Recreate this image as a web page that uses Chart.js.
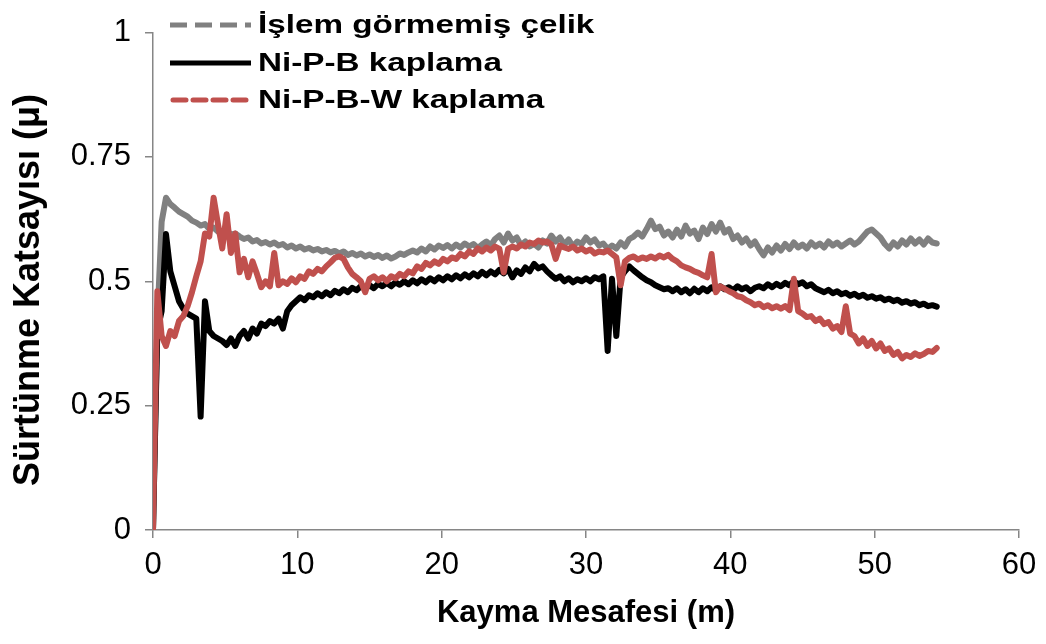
<!DOCTYPE html>
<html>
<head>
<meta charset="utf-8">
<script src="https://cdn.jsdelivr.net/npm/chart.js@4/dist/chart.umd.min.js"></script>
<style>
  html, body { margin: 0; padding: 0; background: #fff; }
  #surtunme { display: block; }
</style>
</head>
<body>
<canvas id="surtunme" width="1046" height="644" style="width:1046px;height:644px"></canvas>
<script>
// kayma mesafesi (m), 0.3 m aralik
const mesafe = [];
for (let i = 0; i <= 181; i++) mesafe.push(Math.round(i * 3) / 10);

const seriAdlari = ['İşlem görmemiş çelik', 'Ni-P-B kaplama', 'Ni-P-B-W kaplama'];
const yBaslik = 'Sürtünme Katsayısı (μ)';
const xBaslik = 'Kayma Mesafesi (m)';
const yTicks = [0, 0.25, 0.5, 0.75, 1];
const xTicks = [0, 10, 20, 30, 40, 50, 60];

const celik = [
  0, 0.42, 0.62, 0.668, 0.655, 0.648, 0.64, 0.635, 0.63, 0.622,
  0.618, 0.612, 0.615, 0.605, 0.608, 0.6, 0.598, 0.602, 0.594, 0.596,
  0.59, 0.585, 0.588, 0.58, 0.583, 0.576, 0.579, 0.574, 0.578, 0.572,
  0.575, 0.568, 0.572, 0.566, 0.57, 0.564, 0.567, 0.562, 0.565, 0.56,
  0.563, 0.558, 0.561, 0.556, 0.56, 0.553, 0.557, 0.552, 0.556, 0.55,
  0.554, 0.549, 0.553, 0.547, 0.552, 0.546, 0.55, 0.556, 0.553, 0.558,
  0.562, 0.558, 0.566, 0.56, 0.57, 0.564, 0.572, 0.567, 0.573, 0.566,
  0.574, 0.568, 0.576, 0.57, 0.575, 0.567, 0.574, 0.58, 0.572, 0.585,
  0.592, 0.578, 0.596, 0.582, 0.588, 0.572, 0.58, 0.57, 0.575, 0.568,
  0.582, 0.576, 0.592, 0.58, 0.588, 0.574, 0.584, 0.57, 0.58, 0.575,
  0.588, 0.578, 0.584, 0.572, 0.576, 0.565, 0.572, 0.566, 0.578, 0.57,
  0.585, 0.59, 0.598, 0.59, 0.605, 0.622, 0.605, 0.61, 0.592, 0.6,
  0.588, 0.604, 0.59, 0.612, 0.596, 0.602, 0.585, 0.608, 0.595, 0.615,
  0.6, 0.618, 0.598, 0.605, 0.585, 0.592, 0.578, 0.586, 0.572, 0.58,
  0.565, 0.552, 0.568, 0.558, 0.572, 0.562, 0.575, 0.565, 0.578, 0.568,
  0.574, 0.566, 0.578, 0.57, 0.576, 0.568, 0.58, 0.572, 0.578, 0.57,
  0.576, 0.582, 0.574, 0.58, 0.59, 0.6, 0.604, 0.596, 0.588, 0.575,
  0.566, 0.578, 0.57, 0.582, 0.574, 0.586, 0.576, 0.584, 0.574, 0.586,
  0.578, 0.576
];

const nipb = [
  0, 0.40, 0.44, 0.595, 0.52, 0.49, 0.46, 0.445, 0.435, 0.43,
  0.425, 0.228, 0.46, 0.40, 0.39, 0.385, 0.38, 0.372, 0.385, 0.37,
  0.39, 0.40, 0.385, 0.405, 0.395, 0.415, 0.41, 0.42, 0.415, 0.425,
  0.405, 0.44, 0.452, 0.46, 0.468, 0.462, 0.472, 0.468, 0.476, 0.47,
  0.478, 0.472, 0.481, 0.476, 0.484, 0.478, 0.487, 0.482, 0.49, 0.485,
  0.492, 0.486, 0.495, 0.49, 0.497, 0.49, 0.498, 0.493, 0.5, 0.494,
  0.502, 0.496, 0.504, 0.498, 0.506, 0.5, 0.508, 0.502, 0.51, 0.504,
  0.512, 0.506, 0.514, 0.508, 0.516, 0.51, 0.519, 0.512, 0.52, 0.514,
  0.523, 0.516, 0.525, 0.508, 0.522, 0.515, 0.528, 0.52, 0.535, 0.526,
  0.53, 0.52, 0.512, 0.505, 0.51, 0.5, 0.506, 0.498, 0.504, 0.5,
  0.506, 0.5, 0.508, 0.504, 0.51, 0.36, 0.505, 0.39, 0.508, 0.52,
  0.53, 0.522, 0.515, 0.508, 0.502, 0.498, 0.492, 0.488, 0.484, 0.486,
  0.48, 0.486, 0.478, 0.484, 0.476, 0.485, 0.478, 0.486, 0.48, 0.488,
  0.482, 0.49, 0.484, 0.488, 0.482, 0.49, 0.484, 0.488, 0.48, 0.487,
  0.49, 0.486, 0.494, 0.488, 0.495, 0.49, 0.497, 0.492, 0.5, 0.494,
  0.498, 0.49, 0.494, 0.486, 0.482, 0.478, 0.483, 0.476, 0.48, 0.474,
  0.477, 0.471, 0.475, 0.469, 0.473, 0.467, 0.47, 0.465, 0.468, 0.462,
  0.465, 0.46, 0.463, 0.457, 0.46, 0.455, 0.458, 0.452, 0.455, 0.45,
  0.452, 0.449
];

const nipbw = [
  0, 0.48, 0.39, 0.37, 0.40, 0.39, 0.42, 0.43, 0.45, 0.478,
  0.51, 0.54, 0.596, 0.59, 0.668, 0.615, 0.566, 0.635, 0.557, 0.596,
  0.518, 0.545, 0.508, 0.54, 0.515, 0.488, 0.5, 0.49, 0.557, 0.492,
  0.5, 0.495, 0.506, 0.498, 0.51, 0.505, 0.52, 0.515, 0.525, 0.52,
  0.53, 0.538, 0.547, 0.55, 0.545, 0.528, 0.515, 0.508, 0.5, 0.478,
  0.505, 0.51, 0.502, 0.508, 0.5, 0.51, 0.506, 0.515, 0.51, 0.52,
  0.516, 0.53, 0.525, 0.537, 0.532, 0.54, 0.535, 0.545, 0.54, 0.548,
  0.545, 0.555, 0.55, 0.56, 0.555, 0.566, 0.56, 0.568, 0.562, 0.57,
  0.565, 0.518, 0.565, 0.57, 0.566, 0.574, 0.57, 0.578, 0.575, 0.582,
  0.578, 0.58, 0.574, 0.545, 0.572, 0.568, 0.565, 0.57, 0.562, 0.566,
  0.56, 0.564, 0.556, 0.56, 0.558, 0.562, 0.555, 0.548, 0.492, 0.54,
  0.547, 0.55, 0.544, 0.548, 0.545, 0.55, 0.546, 0.552, 0.548, 0.553,
  0.545, 0.54, 0.532, 0.528, 0.525, 0.52, 0.517, 0.512, 0.508, 0.555,
  0.478, 0.49, 0.485, 0.48, 0.476, 0.47, 0.468, 0.462, 0.458, 0.452,
  0.455, 0.448, 0.452, 0.446, 0.45, 0.445, 0.45, 0.442, 0.505, 0.44,
  0.435, 0.428, 0.43, 0.42, 0.425, 0.414, 0.418, 0.405, 0.41, 0.398,
  0.45, 0.395, 0.39, 0.375, 0.385, 0.37, 0.38, 0.365, 0.375, 0.36,
  0.365, 0.352, 0.358, 0.345, 0.352, 0.348, 0.355, 0.35, 0.354, 0.36,
  0.358, 0.366
];

const renkler = ['#808080', '#000000', '#C0504D'];
const kesik = [[17, 8], [], [13, 7]];
const uclar = ['butt', 'butt', 'round'];
const eksenRengi = '#868686';
const yazi = '"Liberation Sans", Arial, sans-serif';

function noktalar(ys){ return ys.map((y, i) => ({ x: mesafe[i], y: y })); }

// legend + y title drawn by hand (legend text is stretched wide in the original)
const legendPlugin = {
  id: 'elLegend',
  afterDraw(chart) {
    const ctx = chart.ctx;
    const rows = [25, 63, 100];
    seriAdlari.forEach((ad, i) => {
      const y = rows[i];
      ctx.save();
      ctx.beginPath();
      ctx.setLineDash(kesik[i]);
      ctx.lineWidth = 5;
      ctx.lineCap = uclar[i];
      ctx.strokeStyle = renkler[i];
      ctx.moveTo(i === 2 ? 173 : 170, y);
      ctx.lineTo(i === 2 ? 249 : 251, y);
      ctx.stroke();
      ctx.restore();
      ctx.save();
      ctx.fillStyle = '#000';
      ctx.font = 'bold 25px ' + yazi;
      ctx.textBaseline = 'middle';
      ctx.textAlign = 'left';
      ctx.translate(258, y + 1);
      ctx.scale(1.33, 1);
      ctx.fillText(ad, 0, 0);
      ctx.restore();
    });

    ctx.save();
    ctx.fillStyle = '#000';
    ctx.font = 'bold 36px ' + yazi;
    ctx.textAlign = 'center';
    ctx.textBaseline = 'middle';
    ctx.translate(29, 290);
    ctx.rotate(-Math.PI / 2);
    ctx.fillText(yBaslik, 0, 0);
    ctx.restore();
  }
};

const ctx = document.getElementById('surtunme');
const chart = new Chart(ctx, {
  type: 'line',
  data: {
    datasets: [0, 1, 2].map(i => ({
      label: seriAdlari[i],
      data: noktalar([celik, nipb, nipbw][i]),
      borderColor: renkler[i],
      borderWidth: 6,
      borderJoinStyle: 'round',
      borderCapStyle: 'round',
      pointRadius: 0,
      tension: 0,
      fill: false,
      order: 3 - i
    }))
  },
  options: {
    responsive: false,
    animation: false,
    devicePixelRatio: 1,
    layout: { padding: { top: 17, right: 27, left: 0, bottom: 0 } },
    plugins: { legend: { display: false }, tooltip: { enabled: false } },
    scales: {
      x: {
        type: 'linear',
        min: 0, max: 60,
        afterBuildTicks: s => { s.ticks = xTicks.map(v => ({ value: v })); },
        afterFit: s => { s.height = 114; },
        grid: { drawOnChartArea: false, drawTicks: true, tickLength: 8, color: eksenRengi, lineWidth: 1.5 },
        border: { color: eksenRengi, width: 1.5 },
        ticks: { color: '#000', font: { family: yazi, size: 31 }, padding: 9, maxRotation: 0 },
        title: { display: true, text: xBaslik, color: '#000',
          font: { family: yazi, size: 31, weight: 'bold' }, padding: { top: 0, bottom: 12 } }
      },
      y: {
        min: 0, max: 1,
        afterBuildTicks: s => { s.ticks = yTicks.map(v => ({ value: v })); },
        afterFit: s => { s.width = 153; },
        grid: { drawOnChartArea: false, drawTicks: true, tickLength: 8, color: eksenRengi, lineWidth: 1.5 },
        border: { color: eksenRengi, width: 1.5 },
        ticks: { color: '#000', font: { family: yazi, size: 31 }, padding: 14,
          callback: v => String(v) },
        title: { display: false }
      }
    }
  },
  plugins: [legendPlugin]
});
</script>
</body>
</html>
